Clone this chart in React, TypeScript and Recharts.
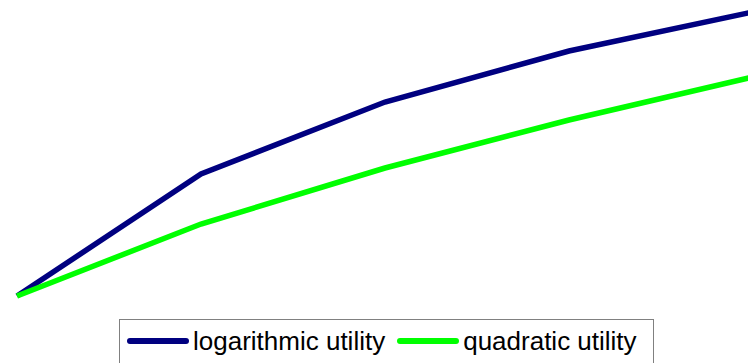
import React from 'react';
import { Line, LineChart, XAxis, YAxis } from 'recharts';

// x positions (equally spaced categories) and values
const STEPS = ['0', '1', '2', '3', '4'];
const LOG_UTILITY = [0, 1.22, 1.94, 2.45, 2.84];
const QUAD_UTILITY = [0, 0.72, 1.28, 1.76, 2.19];

const SERIES = [
  { key: 'log', name: 'logarithmic utility', color: '#000080', values: LOG_UTILITY },
  { key: 'quad', name: 'quadratic utility', color: '#00FF00', values: QUAD_UTILITY },
];

const data = STEPS.map((step, i) => ({
  step,
  log: LOG_UTILITY[i],
  quad: QUAD_UTILITY[i],
}));

const FONT = '"Liberation Sans", Arial, sans-serif';

const App: React.FC = () => (
  <div style={{ position: 'fixed', left: 0, top: 0, width: 748, height: 363, overflow: 'hidden', background: '#fff' }}>
    <LineChart width={760} height={363} data={data} margin={{ top: 0, right: 7, bottom: 67, left: 17 }}>
      <XAxis dataKey="step" hide padding={{ left: 0, right: 0 }} />
      <YAxis hide domain={[0, 2.96]} />
      {SERIES.map((s) => (
        <Line
          key={s.key}
          dataKey={s.key}
          name={s.name}
          type="linear"
          stroke={s.color}
          strokeWidth={5.5}
          dot={false}
          activeDot={false}
          isAnimationActive={false}
        />
      ))}
    </LineChart>
    <div
      style={{
        position: 'absolute',
        left: 119,
        top: 319,
        width: 535,
        height: 50,
        border: '1px solid #808080',
        boxSizing: 'border-box',
        fontFamily: FONT,
        fontSize: 26,
        color: '#000',
        display: 'flex',
        alignItems: 'flex-start',
        paddingTop: 6,
        paddingLeft: 7,
      }}
    >
      {SERIES.map((s, i) => (
        <div key={s.key} style={{ display: 'flex', alignItems: 'center', marginLeft: i ? 12 : 0 }}>
          <span
            style={{
              display: 'inline-block',
              width: 62,
              height: 6,
              borderRadius: 3,
              background: s.color,
              marginRight: 4,
            }}
          />
          <span style={{ lineHeight: '30px' }}>{s.name}</span>
        </div>
      ))}
    </div>
  </div>
);

export default App;
